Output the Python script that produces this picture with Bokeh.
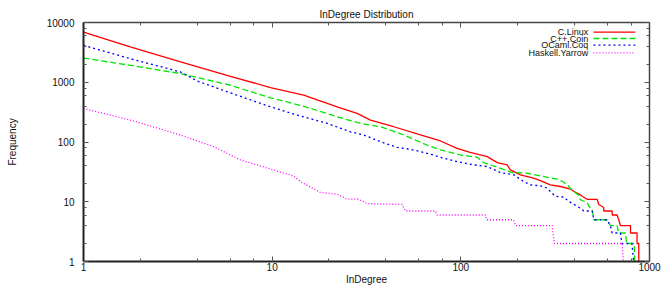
from bokeh.plotting import figure
from bokeh.models import LogAxis, Label, Arrow, PrintfTickFormatter, Range1d, LogTicker
from bokeh.embed import file_html
from bokeh.resources import INLINE

title_text = "InDegree Distribution"
x_label = "InDegree"
y_label = "Frequency"
series_names = ["C.Linux", "C++.Coin", "OCaml.Coq", "Haskell.Yarrow"]
series_colors = ["#ff0000", "#00e600", "#0000ff", "#ff00ff"]
series_dash = ["solid", "6 3", "2 3", "1 2"]

x_ticks = [1, 10, 100, 1000]
y_ticks = [1, 10, 100, 1000, 10000]

linux_x = [1, 1.77, 3.27, 6.01, 9.8, 14.7, 22.1, 28.2, 33.2, 44.1, 61.1, 78, 95.5, 112,
           138, 156, 176, 183, 207, 243, 264, 298, 337, 381, 396, 430, 467, 528, 538,
           572, 572, 634, 634, 673, 687, 701, 793, 793, 859, 859, 877, 877]
linux_y = [6890, 3905, 2197, 1259, 816, 607, 388, 301, 233, 180, 131, 104, 78.5, 67.3,
           56.9, 45.2, 41.4, 34.1, 28.2, 24.8, 22.6, 19.2, 18, 16.3, 15, 13, 11, 11, 9,
           8, 7, 7, 6, 6, 5, 4, 4, 3, 3, 2, 2, 1]

coin_x = [1, 1.77, 3.27, 6.01, 9.8, 12, 16, 22.1, 29.4, 37.5, 49.8, 66.2, 78, 99.5, 122,
          132, 176, 187, 224, 264, 324, 346, 367, 387, 420, 430, 467, 477, 497, 507, 595,
          620, 673, 687, 747, 755, 830, 835]
coin_y = [2540, 1920, 1396, 891, 547, 470, 365, 264, 205, 180, 131, 89, 73.6, 60.7, 55.6,
          45.2, 33.2, 30.8, 30.1, 27.1, 23.9, 21.8, 19.2, 15.8, 13, 10.8, 9.7, 8.4, 7.4,
          5, 5, 4, 4, 3, 3, 2, 2, 1]

coq_x = [1, 1.77, 3.27, 4.0, 6.01, 9.8, 13.6, 19.6, 26, 30.6, 37.5, 45.9, 54, 66.2, 78,
         95.5, 117, 138, 162, 191, 215, 234, 264, 287, 298, 317, 351, 373, 387, 413, 439,
         448, 497, 507, 595, 620, 634, 701, 715, 807, 824]
coq_y = [4140, 2483, 1486, 1051, 663, 388, 282, 205, 148, 131, 101, 81.6, 75.5, 64.8,
         55.6, 47, 41.4, 38.8, 30.8, 28.2, 21.8, 19.2, 18.5, 16.9, 14.9, 12.3, 12, 10.1,
         9.5, 8.4, 7.5, 7, 7, 5, 5, 4, 3, 3, 2, 2, 1]

yarrow_x = [1, 1.77, 2.18, 3.26, 4.9, 6.79, 8.32, 11.1, 13.0, 14.1, 18, 22.1, 24.9, 28.7,
            31.9, 48.8, 50.9, 73.4, 74.9, 135, 137, 190, 195, 305, 313, 716, 727]
yarrow_y = [365, 233, 192, 131, 83.5, 50, 41.4, 31.3, 27.1, 21.8, 14.3, 13.4, 11.1, 11,
            9.3, 9, 7, 7, 6, 6, 5, 5, 4, 4, 2, 2, 1]

series_x = [linux_x, coin_x, coq_x, yarrow_x]
series_y = [linux_y, coin_y, coq_y, yarrow_y]

FONT = "Liberation Sans"
W, H = 665, 287

p = figure(width=W, height=H, x_axis_type="log", y_axis_type="log",
           x_range=Range1d(1, 1000), y_range=Range1d(1, 10000),
           output_backend="svg", toolbar_location=None,
           min_border_left=83, min_border_right=16, min_border_top=22, min_border_bottom=25)
p.title.text = title_text
p.title.align = "center"
p.title.text_font = FONT
p.title.text_font_size = "10px"
p.title.text_font_style = "normal"
p.title.text_color = "#111111"
p.title.standoff = 6
p.title.offset = 0
p.outline_line_color = None
p.xgrid.visible = False
p.ygrid.visible = False
p.background_fill_color = "white"

for ax in (p.xaxis[0], p.yaxis[0]):
    ax.axis_line_color = "#222222"
    ax.axis_line_width = 2
    ax.major_tick_in = 5
    ax.major_tick_out = 0
    ax.minor_tick_in = 3
    ax.minor_tick_out = 0
    ax.major_tick_line_color = "#555555"
    ax.minor_tick_line_color = "#555555"
    ax.major_label_text_font = FONT
    ax.major_label_text_font_size = "10px"
    ax.major_label_text_color = "#111111"
    ax.axis_label_text_font = FONT
    ax.axis_label_text_font_size = "10px"
    ax.axis_label_text_font_style = "normal"
    ax.axis_label_text_color = "#111111"
    ax.formatter = PrintfTickFormatter(format="%d")

p.xaxis.ticker = LogTicker(desired_num_ticks=4)
p.yaxis.ticker = LogTicker(desired_num_ticks=5)
p.xaxis.axis_label = x_label
p.yaxis.axis_label = y_label
p.xaxis.major_label_standoff = 1
p.xaxis.axis_label_standoff = 0
p.yaxis.major_label_standoff = 9
p.yaxis.axis_label_standoff = 26

for loc in ("above", "right"):
    mirror = LogAxis(ticker=LogTicker(), major_label_text_font_size="1px",
                     major_label_text_alpha=0,
                     axis_line_color="#444444", axis_line_width=1.5,
                     major_tick_in=5, major_tick_out=0, minor_tick_in=3, minor_tick_out=0,
                     major_tick_line_color="#555555", minor_tick_line_color="#555555",
                     major_label_standoff=0)
    p.add_layout(mirror, loc)

for xs, ys, name, col, dash in zip(series_x, series_y, series_names, series_colors, series_dash):
    p.line(xs, ys, line_color=col, line_width=1.3, line_dash=dash)

# gnuplot-style key: right-aligned text, sample to its right (positions as fractions of the frame)
def fx(f):
    return 10 ** (3 * f)

def fy(f):
    return 10 ** (4 * (1 - f))

row_f = [0.040, 0.067, 0.095, 0.127]
for i, (name, col, dash) in enumerate(zip(series_names, series_colors, series_dash)):
    yy = fy(row_f[i])
    p.add_layout(Label(x=fx(0.892), y=yy, text=name,
                       text_align="right", text_baseline="middle", text_font=FONT,
                       text_font_size="9px", text_color="#111111"))
    p.add_layout(Arrow(x_start=fx(0.901), y_start=yy, x_end=fx(0.975), y_end=yy, end=None,
                       line_color=col, line_width=1.3, line_dash=dash))

open("out.html", "w").write(file_html(p, INLINE))
